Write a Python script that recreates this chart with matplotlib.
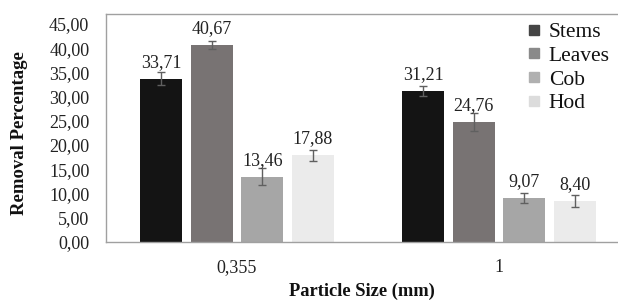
import matplotlib
matplotlib.use("Agg")
import matplotlib.pyplot as plt
import numpy as np

categories = ["0,355", "1"]
series = ["Stems", "Leaves", "Cob", "Hod"]
stems = [33.71, 31.21]
leaves = [40.67, 24.76]
cob = [13.46, 9.07]
hod = [17.88, 8.40]
stems_err = [1.4, 1.0]
leaves_err = [0.8, 1.9]
cob_err = [1.8, 1.0]
hod_err = [1.1, 1.2]
yticks = [0, 5, 10, 15, 20, 25, 30, 35, 40, 45]

values = [stems, leaves, cob, hod]
errors = [stems_err, leaves_err, cob_err, hod_err]
colors = ["#141414", "#787373", "#a6a6a6", "#ebebeb"]
legend_colors = ["#454545", "#8a8a8a", "#b0b0b0", "#dcdcdc"]

plt.rcParams['font.family'] = ['Liberation Serif', 'DejaVu Serif']

fig = plt.figure(figsize=(6.18, 3.02), dpi=100)
ax = fig.add_axes([106/618, 1-242/302, (630-106)/618, (242-14)/302])

x = np.arange(len(categories))
offsets = [-0.29, -0.097, 0.097, 0.29]
width = 0.16
handles = []
for i, (name, vals, errs) in enumerate(zip(series, values, errors)):
    pos = x + offsets[i]
    ax.bar(pos, vals, width, color=colors[i], edgecolor='none', zorder=2)
    ax.errorbar(pos, vals, yerr=errs, fmt='none', ecolor='#606060',
                elinewidth=1.0, capsize=3, capthick=1.0, zorder=3)
    for p, v in zip(pos, vals):
        ax.annotate(f"{v:.2f}".replace('.', ','), (p, v), xytext=(0, 8.5),
                    textcoords='offset points', ha='center', va='baseline',
                    fontsize=13, color='#222222')
    handles.append(plt.Line2D([], [], marker='s', linestyle='none',
                              markersize=7, color=legend_colors[i], label=name))

ax.set_xlim(-0.5, 1.5)
ax.set_ylim(0, 47.05)
ax.set_yticks(yticks)
ax.set_yticklabels([f"{t:.2f}".replace('.', ',') for t in yticks], fontsize=13)
ax.set_xticks(x)
ax.set_xticklabels(categories, fontsize=13)
ax.tick_params(axis='both', length=0, colors='#222222')
ax.tick_params(axis='y', pad=12)
ax.tick_params(axis='x', pad=12)
for s in ['left', 'top', 'bottom']:
    ax.spines[s].set_color('#a0a0a0')
    ax.spines[s].set_linewidth(1.0)
ax.spines['right'].set_visible(False)

fig.text(362/618, 1-291/302, "Particle Size (mm)", ha='center', va='center',
         fontsize=13.3, fontweight='bold', color='#111111')
fig.text(20/618, 1-133/302, "Removal Percentage", ha='center', va='center',
         rotation=90, fontsize=13.5, fontweight='bold', color='#111111')

leg = fig.legend(handles=handles, loc='upper left', bbox_to_anchor=(522/618, 1-22/302),
                 frameon=False, fontsize=15.5, handletextpad=0.15, labelspacing=0.17,
                 handlelength=1.1, borderpad=0, borderaxespad=0)
for t in leg.get_texts():
    t.set_color('#111111')

fig.savefig("out.png", dpi=100)
